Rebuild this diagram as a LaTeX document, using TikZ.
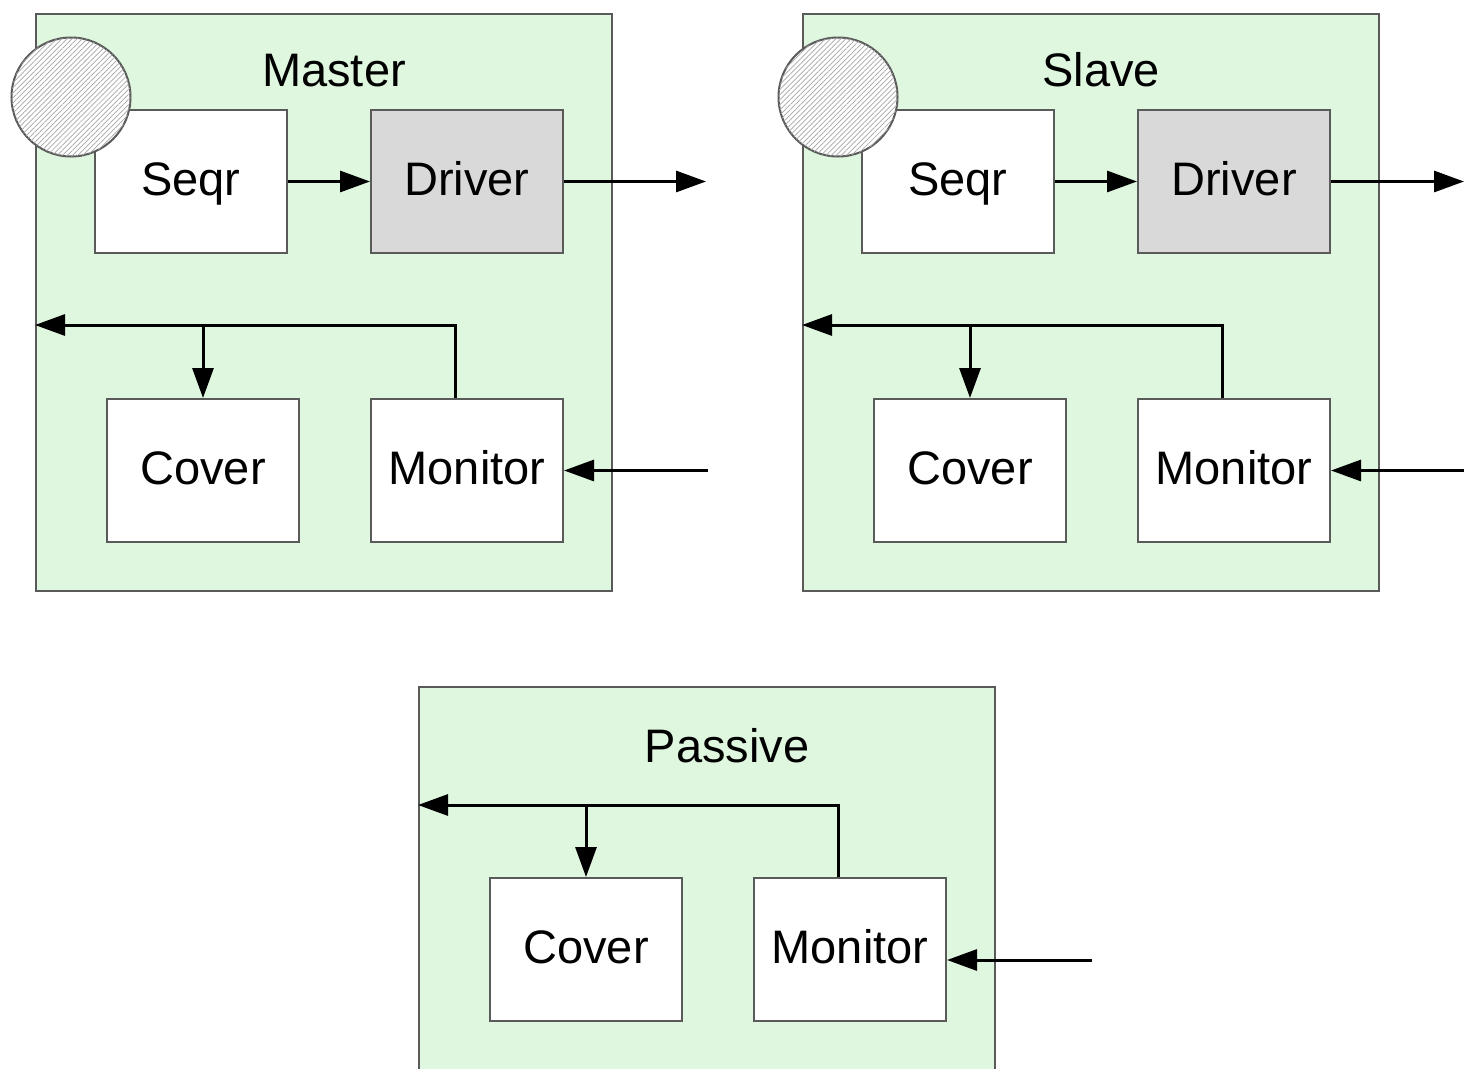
\documentclass[tikz,border=0pt]{standalone}
\usepackage{fontspec}
\setmainfont{Liberation Sans}
\usetikzlibrary{arrows.meta,patterns.meta}
\definecolor{agentgreen}{HTML}{DFF6DF}
\definecolor{edgegray}{HTML}{5A5A5A}
\definecolor{drivergray}{HTML}{D9D9D9}
\begin{document}
\begin{tikzpicture}[x=1pt,y=-1pt,
  container/.style={draw=edgegray, line width=2pt, fill=agentgreen, anchor=north west, inner sep=0pt, minimum width=576pt},
  block/.style={draw=edgegray, line width=2pt, fill=white, minimum width=192pt, minimum height=143pt, inner sep=0pt,
    text height=34pt, text depth=7pt, font=\fontsize{47}{50}\selectfont},
  drv/.style={block, fill=drivergray},
  title/.style={anchor=base, font=\fontsize{47}{50}\selectfont},
  seqport/.style={circle, draw=edgegray, line width=2pt, minimum size=119pt, inner sep=0pt, fill=white,
    postaction={pattern={Lines[angle=45,distance=3.6pt,line width=0.7pt]}, pattern color=black!35}},
  flow/.style={line width=3pt, -{Triangle[length=30pt,width=21pt]}},
]
\useasboundingbox (0,0) rectangle (1464,1068);

% ---------------- Master agent ----------------
\node[container, minimum height=577pt] (mbox) at (35,13) {};
\node[title] (mtitle) at (334,86) {Master};
\node[block] (mseqr) at (191,181.5) {Seqr};
\node[drv]   (mdrv)  at (467,181.5) {Driver};
\node[seqport] (mport) at (71,97) {};
\node[block] (mcov)  at (203,470.5) {Cover};
\node[block] (mmon)  at (467,470.5) {Monitor};
\coordinate (mout) at (706,181.5);
\coordinate (min)  at (708,470.5);
\coordinate (mfb)  at (mbox.west |- 0,325);
\draw[flow] (mseqr) -- (mdrv);
\draw[flow] (mdrv.east) -- (mout);
\draw[flow] ([xshift=-12pt]mmon.north) |- (mfb);
\draw[flow] (mcov.north |- mfb) -- (mcov.north);
\draw[flow] (min) -- (mmon.east);

% ---------------- Slave agent ----------------
\node[container, minimum height=577pt] (sbox) at (802,13) {};
\node[title] (stitle) at (1101,86) {Slave};
\node[block] (sseqr) at (958,181.5) {Seqr};
\node[drv]   (sdrv)  at (1234,181.5) {Driver};
\node[seqport] (sport) at (838,97) {};
\node[block] (scov)  at (970,470.5) {Cover};
\node[block] (smon)  at (1234,470.5) {Monitor};
\coordinate (sout) at (1464,181.5);
\coordinate (sin)  at (1466,470.5);
\coordinate (sfb)  at (sbox.west |- 0,325);
\draw[flow] (sseqr) -- (sdrv);
\draw[flow] (sdrv.east) -- (sout);
\draw[flow] ([xshift=-12pt]smon.north) |- (sfb);
\draw[flow] (scov.north |- sfb) -- (scov.north);
\draw[flow] (sin) -- (smon.east);

% ---------------- Passive agent ----------------
\node[container, minimum height=384pt] (pbox) at (418,686) {};
\node[title] (ptitle) at (727,762) {Passive};
\node[block] (pcov)  at (586,949.5) {Cover};
\node[block] (pmon)  at (850,949.5) {Monitor};
\coordinate (pin)  at (1092,960);
\coordinate (pfb)  at (pbox.west |- 0,805);
\draw[flow] ([xshift=-12pt]pmon.north) |- (pfb);
\draw[flow] (pcov.north |- pfb) -- (pcov.north);
\draw[flow] (pin) -- (pmon.east |- pin);
\end{tikzpicture}
\end{document}
